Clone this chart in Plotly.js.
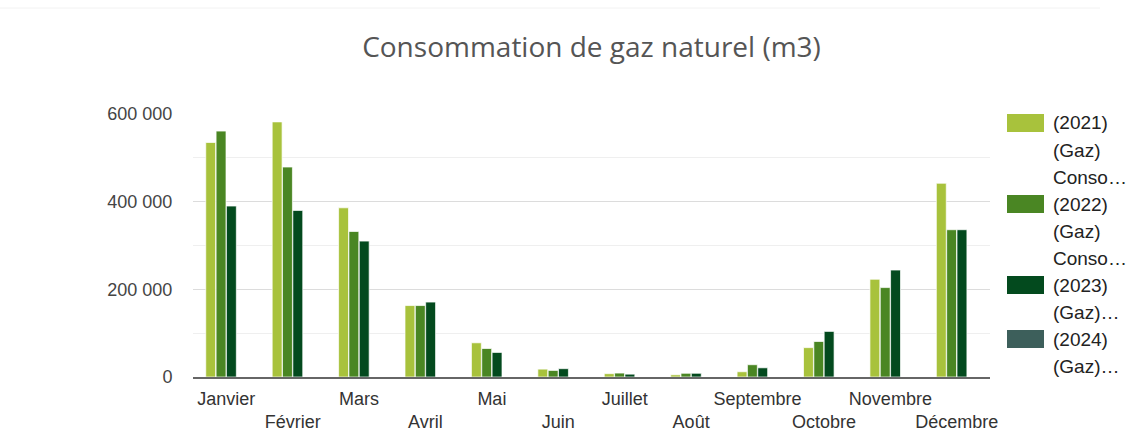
<!DOCTYPE html>
<html>
<head>
<meta charset="utf-8">
<script src="https://cdn.plot.ly/plotly-3.0.1.min.js"></script>
<style>html,body{margin:0;padding:0;background:#fff;}#chart{width:1132px;height:433px;}</style>
</head>
<body>
<div id="chart"></div>
<script>
// ---- data ----
const months = ['Janvier','Février','Mars','Avril','Mai','Juin','Juillet','Août','Septembre','Octobre','Novembre','Décembre'];
const gaz2021 = [535000, 582000, 386000, 163000, 78000, 18000, 7600, 5000, 12000, 67000, 223000, 442000];
const gaz2022 = [561000, 479000, 332000, 163000, 65000, 15000, 9000, 8500, 28000, 81000, 204000, 336000];
const gaz2023 = [390000, 380000, 310000, 171000, 56000, 19000, 6500, 8500, 21000, 104000, 244000, 336000];
const gaz2024 = [null, null, null, null, null, null, null, null, null, null, null, null];
const seriesNames = ['(2021) (Gaz) Consommation', '(2022) (Gaz) Consommation', '(2023) (Gaz) Consommation', '(2024) (Gaz) Consommation'];
const legendLines = [['(2021)','(Gaz)','Conso…'], ['(2022)','(Gaz)','Conso…'], ['(2023)','(Gaz)…'], ['(2024)','(Gaz)…']];
const colors = ['#A8C23C', '#4A8623', '#034A1E', '#3D5F5B'];
const yTicks = [0, 200000, 400000, 600000];

// ---- layout helpers (pixel -> paper) ----
const L = 193, R = 990, T = 114, B = 377;
const px2x = p => (p - L) / (R - L);
const py2y = p => (B - p) / (B - T);

const seriesValues = [gaz2021, gaz2022, gaz2023, gaz2024];
const traces = seriesValues.map((vals, i) => ({
  type: 'bar',
  name: seriesNames[i],
  x: months,
  y: vals,
  marker: {color: colors[i], line: {color: 'rgba(255,255,255,0.7)', width: 1}},
  hoverinfo: 'x+y+name'
}));

const shapes = [{type: 'line', xref: 'paper', yref: 'paper', x0: px2x(0), x1: px2x(1100), y0: py2y(8), y1: py2y(8), line: {color: '#f2f2f2', width: 1}}];
const annotations = [];
let lineY = 123;
const step = 27;
legendLines.forEach((lines, i) => {
  shapes.push({type: 'rect', xref: 'paper', yref: 'paper', x0: px2x(1007), x1: px2x(1044), y0: py2y(lineY - 9), y1: py2y(lineY + 9), fillcolor: colors[i], line: {width: 0}});
  lines.forEach(t => {
    annotations.push({xref: 'paper', yref: 'paper', x: px2x(1051), y: py2y(lineY), xanchor: 'left', yanchor: 'middle', text: t, showarrow: false, font: {family: 'Liberation Sans, Arial, sans-serif', size: 19, color: '#222'}});
    lineY += step;
  });
});

const layout = {
  width: 1132, height: 433,
  margin: {l: L, r: 1132 - R, t: T, b: 433 - B, pad: 0},
  paper_bgcolor: '#fff', plot_bgcolor: '#fff',
  separators: ', ',
  barmode: 'group', bargap: 0.378, bargroupgap: 0.04,
  showlegend: false,
  title: {text: 'Consommation de gaz naturel (m3)', x: 0.5, xref: 'paper', y: 1 - 47/433, yanchor: 'middle', yref: 'container',
          font: {family: 'Open Sans', size: 28, color: '#555'}},
  xaxis: {
    type: 'category', tickmode: 'array', tickvals: months,
    ticktext: months.map((m, i) => i % 2 === 1 ? '&nbsp;<br>' + m : m),
    tickangle: 0, automargin: false,
    ticks: 'outside', ticklen: 4, tickcolor: 'rgba(0,0,0,0)',
    showline: true, linecolor: '#666', linewidth: 2,
    tickfont: {family: 'Liberation Sans, Arial, sans-serif', size: 18, color: '#333'},
    fixedrange: true
  },
  yaxis: {
    range: [0, 600000], tickmode: 'array', tickvals: yTicks, tickformat: ',d',
    showgrid: true, gridcolor: '#dcdcdc', gridwidth: 1,
    minor: {dtick: 100000, showgrid: true, gridcolor: '#efefef', gridwidth: 1},
    zeroline: false, showline: false, automargin: false,
    ticks: 'outside', ticklen: 16, tickcolor: 'rgba(0,0,0,0)',
    tickfont: {family: 'Liberation Sans, Arial, sans-serif', size: 18, color: '#444'},
    fixedrange: true
  },
  shapes: shapes,
  annotations: annotations
};

Plotly.newPlot('chart', traces, layout, {displayModeBar: false, staticPlot: true});
</script>
</body>
</html>
